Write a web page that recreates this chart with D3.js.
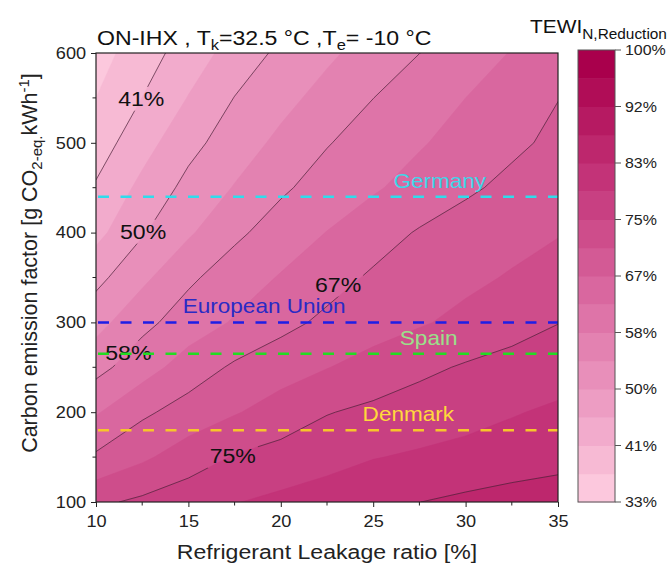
<!DOCTYPE html>
<html>
<head>
<meta charset="utf-8">
<script src="https://cdn.jsdelivr.net/npm/d3@7"></script>
<style>
  body { margin: 0; background: #fff; }
  svg { font-family: "Liberation Sans", Arial, sans-serif; }
</style>
</head>
<body>
<svg id="chart" width="671" height="567"></svg>
<script>
// Grid of TEWI reduction (%) vs refrigerant leakage ratio (columns) and
// carbon emission factor (rows, bottom to top).
const leakage = [10, 12.5, 15, 17.5, 20, 22.5, 25, 27.5, 30, 32.5, 35];
const emission = [100, 150, 200, 250, 300, 350, 400, 450, 500, 550, 600];
const reduction = [
  [74.2, 75.8, 77.4, 79.0, 80.1, 81.2, 82.3, 83.3, 84.2, 85.1, 86.0],
  [67.3, 70.1, 72.9, 75.3, 76.5, 77.7, 79.0, 79.7, 80.3, 81.0, 81.6],
  [62.1, 65.9, 68.4, 70.5, 72.7, 74.8, 75.9, 76.9, 77.9, 78.9, 79.8],
  [57.0, 60.7, 64.4, 67.3, 69.0, 70.7, 72.4, 74.1, 75.4, 76.4, 77.4],
  [52.7, 57.2, 60.3, 62.9, 65.5, 67.5, 69.0, 70.4, 71.9, 73.4, 74.9],
  [48.8, 53.2, 57.6, 60.4, 62.8, 65.2, 67.2, 68.5, 69.9, 71.2, 72.5],
  [44.6, 49.6, 53.6, 57.5, 60.2, 62.6, 65.0, 67.0, 68.2, 69.4, 70.6],
  [42.1, 46.9, 51.2, 54.4, 57.7, 60.0, 62.0, 64.1, 66.1, 67.5, 68.6],
  [39.6, 44.2, 48.7, 52.1, 55.1, 58.1, 60.1, 62.1, 64.1, 66.0, 67.4],
  [37.5, 41.7, 46.0, 50.1, 52.9, 55.6, 58.3, 60.4, 62.5, 64.5, 66.6],
  [35.8, 39.7, 43.6, 47.5, 50.9, 53.4, 55.9, 58.3, 60.5, 62.7, 64.9]
];

// Colour levels: 16 bands from 33.3 % to 100 %
const levelMin = 100 / 3;
const levelMax = 100;
const bandCount = 16;
const colorbarTicks = ["33%", "41%", "50%", "58%", "67%", "75%", "83%", "92%", "100%"];

// Contour lines drawn every second band edge, with their labels
const lineLevels = [41.667, 50, 58.333, 66.667, 75, 83.333];
const contourLabelText = ["41%", "50%", "58%", "67%", "75%"];
const contourLabelLeak = [12.45, 12.55, 11.75, 23.1, 17.4];
const contourLabelEmis = [549, 401, 266, 342, 151];

// Reference grid emission factors
const countries = ["Germany", "European Union", "Spain", "Denmark"];
const countryFactor = [440, 300, 265, 180];
const countryLabelLeak = [28.6, 19.1, 28.0, 26.9];

const xTicks = [10, 15, 20, 25, 30, 35];
const yTicks = [100, 200, 300, 400, 500, 600];

// ---- layout & style ----
const SX = 1.1; // horizontal glyph stretch
const svg = d3.select("#chart");
const plot = { left: 96, right: 558, top: 53, bottom: 502 };
const cbar = { left: 578, right: 615, top: 50, bottom: 502 };
const lineStyle = {
  "Germany":        { stroke: "#2fdcec", text: "#3fd6e8" },
  "European Union": { stroke: "#1e1ee6", text: "#2a2ac4" },
  "Spain":          { stroke: "#22dc22", text: "#9ae08a" },
  "Denmark":        { stroke: "#f7c52a", text: "#ffd83c" }
};

// text placed at (x, y) with a slight horizontal stretch
function stext(parent, px, py) {
  return parent.append("text")
    .attr("transform", `translate(${px},${py}) scale(${SX},1)`);
}

const x = d3.scaleLinear().domain([10, 35]).range([plot.left, plot.right]);
const y = d3.scaleLinear().domain([100, 600]).range([plot.bottom, plot.top]);

const color = d3.scaleLinear()
  .domain([35.4, 50, 66.67, 83.33, 97.9])
  .range(["#fcc8dd", "#ea96bf", "#d6609a", "#c02d73", "#a9004c"])
  .interpolate(d3.interpolateRgb);

const step = (levelMax - levelMin) / bandCount;
const thresholds = d3.range(bandCount).map(i => levelMin + i * step);

// grid -> pixel transform (d3.contours places value k at coordinate k + 0.5)
const nx = leakage.length, ny = emission.length;
const gx = d3.scaleLinear().domain([0.5, nx - 0.5]).range([x(leakage[0]), x(leakage[nx - 1])]);
const gy = d3.scaleLinear().domain([0.5, ny - 0.5]).range([y(emission[0]), y(emission[ny - 1])]);
const path = d3.geoPath(d3.geoTransform({
  point(px, py) { this.stream.point(gx(px), gy(py)); }
}));

const values = reduction.flat();
const contours = d3.contours().size([nx, ny]);

const defs = svg.append("defs");
defs.append("clipPath").attr("id", "plotClip")
  .append("rect")
  .attr("x", plot.left).attr("y", plot.top)
  .attr("width", plot.right - plot.left).attr("height", plot.bottom - plot.top);

// filled bands
const field = svg.append("g").attr("clip-path", "url(#plotClip)");
field.selectAll("path.band")
  .data(contours.thresholds(thresholds)(values))
  .join("path")
  .attr("class", "band")
  .attr("d", path)
  .attr("fill", d => color(d.value + step / 2))
  .attr("stroke", d => color(d.value + step / 2))
  .attr("stroke-width", 0.5);

// contour lines, masked around their labels
const mask = defs.append("mask").attr("id", "labelMask")
  .attr("maskUnits", "userSpaceOnUse")
  .attr("x", 0).attr("y", 0).attr("width", 671).attr("height", 567);
mask.append("rect").attr("width", 671).attr("height", 567).attr("fill", "#fff");

const linesG = svg.append("g").attr("clip-path", "url(#plotClip)");
linesG.append("g").attr("mask", "url(#labelMask)")
  .selectAll("path")
  .data(contours.thresholds(lineLevels)(values))
  .join("path")
  .attr("d", path)
  .attr("fill", "none")
  .attr("stroke", "#4a2238")
  .attr("stroke-width", 0.7);

const labelsG = svg.append("g");
contourLabelText.forEach((t, i) => {
  const lx = x(contourLabelLeak[i]), ly = y(contourLabelEmis[i]);
  const txt = stext(labelsG, lx, ly)
    .attr("text-anchor", "middle")
    .attr("dominant-baseline", "central")
    .attr("font-size", 21)
    .attr("fill", "#111")
    .text(t);
  const b = txt.node().getBBox();
  mask.append("rect")
    .attr("x", lx + b.x * SX - 2).attr("y", ly + b.y)
    .attr("width", b.width * SX + 4).attr("height", b.height)
    .attr("fill", "#000");
});

// country reference lines
const refG = svg.append("g");
countries.forEach((c, i) => {
  const st = lineStyle[c];
  const ly = y(countryFactor[i]);
  refG.append("line")
    .attr("x1", plot.left + 2).attr("x2", plot.right)
    .attr("y1", ly).attr("y2", ly)
    .attr("stroke", st.stroke)
    .attr("stroke-width", 2.5)
    .attr("stroke-dasharray", "11,11.5");
  stext(refG, x(countryLabelLeak[i]), ly - 9)
    .attr("text-anchor", "middle")
    .attr("font-size", 20.5)
    .attr("fill", st.text)
    .text(c);
});

// frame
svg.append("rect")
  .attr("x", plot.left).attr("y", plot.top)
  .attr("width", plot.right - plot.left).attr("height", plot.bottom - plot.top)
  .attr("fill", "none").attr("stroke", "#222").attr("stroke-width", 1.2);

// axes
const xAxis = svg.append("g")
  .attr("transform", `translate(0,${plot.bottom})`)
  .call(d3.axisBottom(x).tickValues(xTicks).tickSize(5).tickPadding(8));
xAxis.append("g").selectAll("line")
  .data(d3.range(12.5, 35, 5))
  .join("line")
  .attr("x1", d => x(d)).attr("x2", d => x(d))
  .attr("y1", 0).attr("y2", 3.5)
  .attr("stroke", "#222");

const yAxis = svg.append("g")
  .attr("transform", `translate(${plot.left},0)`)
  .call(d3.axisLeft(y).tickValues(yTicks).tickSize(5).tickPadding(4));
yAxis.append("g").selectAll("line")
  .data(d3.range(150, 600, 100))
  .join("line")
  .attr("y1", d => y(d)).attr("y2", d => y(d))
  .attr("x1", 0).attr("x2", -3.5)
  .attr("stroke", "#222");

[xAxis, yAxis].forEach(a => {
  a.select(".domain").remove();
  a.selectAll(".tick line").attr("stroke", "#222");
  a.selectAll(".tick text")
    .attr("font-size", 16.5)
    .attr("fill", "#222")
    .attr("transform", `scale(${SX},1)`)
    .style("font-family", '"Liberation Sans", Arial, sans-serif');
});

// axis titles
stext(svg, (plot.left + plot.right) / 2, 559)
  .attr("text-anchor", "middle")
  .attr("font-size", 21)
  .attr("fill", "#222")
  .text("Refrigerant Leakage ratio [%]");

const yTitle = svg.append("text")
  .attr("transform", `translate(37,263) rotate(-90)`)
  .attr("text-anchor", "middle")
  .attr("font-size", 21.5)
  .attr("fill", "#222");
yTitle.append("tspan").text("Carbon emission factor [g CO");
yTitle.append("tspan").attr("font-size", 15).attr("dy", 5).text("2-eq.");
yTitle.append("tspan").attr("dy", -5).text("kWh");
yTitle.append("tspan").attr("font-size", 15).attr("dy", -8).text("-1");
yTitle.append("tspan").attr("dy", 8).text("]");

// chart title
const title = stext(svg, plot.left + 1, 45)
  .attr("font-size", 21)
  .attr("fill", "#111");
title.append("tspan").text("ON-IHX , T");
title.append("tspan").attr("font-size", 15).attr("dy", 5).text("k");
title.append("tspan").attr("dy", -5).text("=32.5 \u00B0C ,T");
title.append("tspan").attr("font-size", 15).attr("dy", 5).text("e");
title.append("tspan").attr("dy", -5).text("= -10 \u00B0C");

// colour bar
const cbY = d3.scaleLinear().domain([levelMin, levelMax]).range([cbar.bottom, cbar.top]);
const cbG = svg.append("g");
cbG.selectAll("rect.cb")
  .data(thresholds)
  .join("rect")
  .attr("class", "cb")
  .attr("x", cbar.left)
  .attr("width", cbar.right - cbar.left)
  .attr("y", d => cbY(d + step))
  .attr("height", d => cbY(d) - cbY(d + step) + 0.5)
  .attr("fill", d => color(d + step / 2));
cbG.append("rect")
  .attr("x", cbar.left).attr("y", cbar.top)
  .attr("width", cbar.right - cbar.left).attr("height", cbar.bottom - cbar.top)
  .attr("fill", "none").attr("stroke", "#555").attr("stroke-width", 1);

const cbTickScale = d3.scalePoint().domain(colorbarTicks).range([cbar.bottom, cbar.top]);
colorbarTicks.forEach(t => {
  const yy = cbTickScale(t);
  cbG.append("line")
    .attr("x1", cbar.right).attr("x2", cbar.right + 6)
    .attr("y1", yy).attr("y2", yy)
    .attr("stroke", "#555");
  stext(cbG, cbar.right + 10, yy)
    .attr("dominant-baseline", "central")
    .attr("font-size", 14.5)
    .attr("fill", "#222")
    .text(t);
});

const cbTitle = stext(svg, 530, 33)
  .attr("font-size", 19)
  .attr("fill", "#111");
cbTitle.append("tspan").text("TEWI");
cbTitle.append("tspan").attr("font-size", 14).attr("dy", 6).text("N,Reduction");
</script>
</body>
</html>
